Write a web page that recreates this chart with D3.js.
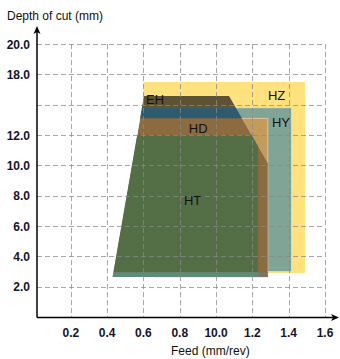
<!DOCTYPE html>
<html><head><meta charset="utf-8">
<script src="https://cdn.jsdelivr.net/npm/d3@7"></script>
<style>html,body{margin:0;padding:0;background:#fff;}svg{display:block;font-family:"Liberation Sans",Arial,sans-serif;}</style>
</head><body><div id="chart"></div>
<script>
// ---- data ----
const feedTicks = [0.2, 0.4, 0.6, 0.8, 1.0, 1.2, 1.4, 1.6];
const feedTickLabels = ["0.2", "0.4", "0.6", "0.8", "10.0", "1.2", "1.4", "1.6"];
const depthTicks = [2, 4, 6, 8, 10, 12, 14, 16, 18];
const depthTickLabels = ["2.0", "4.0", "6.0", "8.0", "10.0", "12.0", "", "18.0", "20.0"];

// rectangular grade regions: [feedMin, feedMax, depthMin, depthMax]
const hzRegion = [0.60, 1.49, 2.9, 15.5];
const hyRegion = [0.66, 1.416, 2.99, 13.8];
const hdRegion = [0.66, 1.285, 2.64, 13.1];
// envelope polygon (feed, depth)
const ehEnvelope = [[0.43, 2.64], [0.603, 14.57], [1.071, 14.57], [1.285, 10.15], [1.285, 2.64]];
// bands inside the envelope: [depthMin, depthMax, colour]
const envelopeBands = [[13.8, 14.6, "#5d5334"], [13.1, 13.8, "#2f5b6e"]];
const htRegion = [0.40, 1.231, 2.95, 12.0];
const bottomStripe = [[0.40, 1.231, 2.64, 2.95, "#5e8c7c"], [1.231, 1.285, 2.64, 2.95, "#7b7666"]];

const gradeLabels = ["EH", "HZ", "HY", "HD", "HT"];
const gradeLabelFeed = [0.614, 1.286, 1.308, 0.85, 0.823];
const gradeLabelDepth = [14.05, 14.3, 12.52, 12.13, 7.38];

// ---- layout ----
const W = 340, H = 359;
const x = d3.scaleLinear().domain([0, 1.6]).range([34.5, 325]);
const y = d3.scaleLinear().domain([0, 18]).range([317, 44]);
const axisX = 37, axisY = 317.5;

const svg = d3.select("#chart").append("svg").attr("width", W).attr("height", H);
const defs = svg.append("defs");

const rect = (g, r, fill) => g.append("rect")
  .attr("x", x(r[0])).attr("width", x(r[1]) - x(r[0]))
  .attr("y", y(r[3])).attr("height", y(r[2]) - y(r[3]))
  .attr("fill", fill);

// HZ
rect(svg, hzRegion, "#ffe17e");
// HY
rect(svg, hyRegion, "#80a597").attr("stroke", "#d5e0d4").attr("stroke-width", 1);
// HD (visible right of chamfer)
rect(svg, hdRegion, "#c59b5c").attr("stroke", "#e6cfa6").attr("stroke-width", 0.8);

// envelope
const line = d3.line().x(d => x(d[0])).y(d => y(d[1]));
defs.append("clipPath").attr("id", "env").append("path").attr("d", line(ehEnvelope) + "Z");
const env = svg.append("g").attr("clip-path", "url(#env)");
env.append("path").attr("d", line(ehEnvelope) + "Z").attr("fill", "#8d6b41");
envelopeBands.forEach(b => rect(env, [0, 1.6, b[0], b[1]], b[2]));
rect(env, htRegion, "#546f46");
bottomStripe.forEach(s => rect(env, s, s[4]));

// grid (on top)
const grid = svg.append("g").attr("stroke", "#8a8a8a").attr("stroke-opacity", 0.75)
  .attr("stroke-width", 1).attr("stroke-dasharray", "5,3").attr("fill", "none");
depthTicks.forEach(t => grid.append("line").attr("x1", axisX).attr("x2", x(1.6))
  .attr("y1", Math.round(y(t)) + 0.5).attr("y2", Math.round(y(t)) + 0.5));
feedTicks.forEach(t => grid.append("line").attr("y1", y(18)).attr("y2", axisY)
  .attr("x1", Math.round(x(t)) + 0.5).attr("x2", Math.round(x(t)) + 0.5));

// axes
const ax = svg.append("g");
ax.append("line").attr("x1", axisX).attr("x2", axisX).attr("y1", axisY).attr("y2", 31)
  .attr("stroke", "#000").attr("stroke-width", 1.5);
ax.append("line").attr("x1", axisX).attr("x2", 334).attr("y1", axisY).attr("y2", axisY)
  .attr("stroke", "#000").attr("stroke-width", 1.5);
ax.append("path").attr("d", `M${axisX},26 L${axisX - 3.5},34 L${axisX},32 L${axisX + 3.5},34 Z`).attr("fill", "#000");
ax.append("path").attr("d", `M339,${axisY} L331,${axisY - 3.5} L333,${axisY} L331,${axisY + 3.5} Z`).attr("fill", "#000");

// tick labels
svg.append("g").selectAll("text").data(depthTicks).join("text")
  .attr("x", 30).attr("y", d => y(d) + 4.5).attr("text-anchor", "end")
  .attr("font-size", 12).attr("fill", "#15152a").attr("font-weight", "bold")
  .text((d, i) => depthTickLabels[i]);
svg.append("g").selectAll("text").data(feedTicks).join("text")
  .attr("x", d => x(d)).attr("y", 337).attr("text-anchor", "middle")
  .attr("font-size", 12).attr("fill", "#15152a").attr("font-weight", "bold")
  .text((d, i) => feedTickLabels[i]);

// titles
svg.append("text").attr("x", 7).attr("y", 20).attr("font-size", 12).attr("fill", "#111")
  .text("Depth of cut (mm)");
svg.append("text").attr("x", 171).attr("y", 355).attr("font-size", 12).attr("fill", "#111")
  .text("Feed (mm/rev)");

// grade labels
svg.append("g").selectAll("text").data(gradeLabels).join("text")
  .attr("x", (d, i) => x(gradeLabelFeed[i])).attr("y", (d, i) => y(gradeLabelDepth[i]))
  .attr("font-size", 13).attr("fill", "#111").text(d => d);
</script></body></html>
